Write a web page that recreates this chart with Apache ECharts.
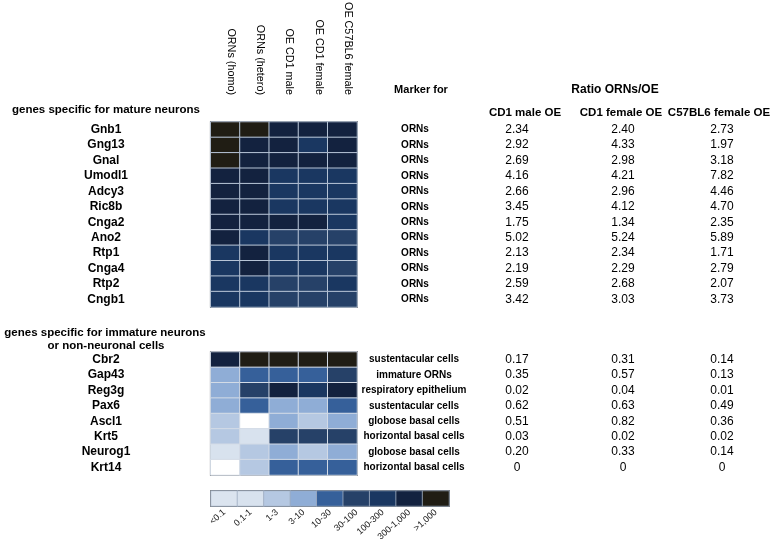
<!DOCTYPE html>
<html><head><meta charset="utf-8">
<script src="https://cdn.jsdelivr.net/npm/echarts@6/dist/echarts.min.js"></script>
<style>html,body{margin:0;padding:0;background:#fff}#c{width:777px;height:543px}</style>
</head><body><div id="c"></div>
<script>
const columns = ['ORNs (homo)','ORNs (hetero)','OE CD1 male','OE CD1 female','OE C57BL6 female'];

const matureGenes = ['Gnb1','Gng13','Gnal','Umodl1','Adcy3','Ric8b','Cnga2','Ano2','Rtp1','Cnga4','Rtp2','Cngb1'];
const matureLevels = [
  [8,8,7,7,7],
  [8,7,7,6,7],
  [8,7,7,7,7],
  [7,7,6,6,6],
  [7,7,6,6,6],
  [7,7,6,6,6],
  [7,7,7,7,6],
  [7,6,5,5,5],
  [6,7,6,6,6],
  [6,7,6,6,5],
  [6,6,5,5,6],
  [6,6,5,5,5]
];
const matureMarkers = ['ORNs','ORNs','ORNs','ORNs','ORNs','ORNs','ORNs','ORNs','ORNs','ORNs','ORNs','ORNs'];
const matureCD1Male   = [2.34,2.92,2.69,4.16,2.66,3.45,1.75,5.02,2.13,2.19,2.59,3.42];
const matureCD1Female = [2.40,4.33,2.98,4.21,2.96,4.12,1.34,5.24,2.34,2.29,2.68,3.03];
const matureC57Female = [2.73,1.97,3.18,7.82,4.46,4.70,2.35,5.89,1.71,2.79,2.07,3.73];

const immatureGenes = ['Cbr2','Gap43','Reg3g','Pax6','Ascl1','Krt5','Neurog1','Krt14'];
const immatureLevels = [
  [7,8,8,8,8],
  [3,4,4,4,5],
  [3,5,7,6,7],
  [3,4,3,3,4],
  [2,0,3,2,3],
  [2,1,5,5,5],
  [1,2,3,2,3],
  [0,2,4,4,4]
];
const immatureMarkers = ['sustentacular cells','immature ORNs','respiratory epithelium','sustentacular cells','globose basal cells','horizontal basal cells','globose basal cells','horizontal basal cells'];
const immatureCD1Male   = [0.17,0.35,0.02,0.62,0.51,0.03,0.20,0];
const immatureCD1Female = [0.31,0.57,0.04,0.63,0.82,0.02,0.33,0];
const immatureC57Female = [0.14,0.13,0.01,0.49,0.36,0.02,0.14,0];

const levelLabels = ['<0.1','0.1-1','1-3','3-10','10-30','30-100','100-300','300-1,000','>1,000'];
const levelIndex = [0,1,2,3,4,5,6,7,8];

const heatColors   = ['#ffffff','#d8e2ee','#b5c8e2','#8fadd6','#36609a','#264168','#1a3761','#13223f','#201d14'];
const legendColors = ['#dbe4ef','#d8e2ee','#b5c8e2','#8fadd6','#36609a','#264168','#1a3761','#13223f','#201d14'];

const FONT = "'Liberation Sans', Arial, sans-serif";
const fmt = v => v === 0 ? '0' : v.toFixed(2);

function cells(levels){
  const out = [];
  levels.forEach((row, r) => row.forEach((v, c) => out.push([c, r, v])));
  return out;
}

const gx = 210.7, gw = 146.3;
const topGrid = {left: gx, top: 122, width: gw, height: 185};
const botGrid = {left: gx, top: 352, width: gw, height: 123};
const legGrid = {left: 211, top: 491, width: 238, height: 15};
const gridStyle = {show: true, borderColor: '#111', borderWidth: 1.5, backgroundColor: 'transparent',
  containLabel: false, outerBoundsMode: 'none'};

const noLine = {axisLine:{show:false}, axisTick:{show:false}, splitLine:{show:false}};

function rightAxis(gridIndex, genes, texts, center, bold, size){
  return Object.assign({
    type: 'category', gridIndex, data: genes, inverse: true, position: 'right',
    axisLabel: {
      interval: 0, align: 'center', margin: center - (gx + gw),
      formatter: (v, i) => texts[i],
      color: '#000', fontFamily: FONT, fontWeight: bold ? 'bold' : 'normal', fontSize: size
    }
  }, noLine);
}

function geneAxis(gridIndex, genes){
  return Object.assign({
    type: 'category', gridIndex, data: genes, inverse: true, position: 'left',
    axisLabel: {interval: 0, align: 'center', margin: gx - 106, color: '#000',
      fontFamily: FONT, fontWeight: 'bold', fontSize: 12}
  }, noLine);
}

const yAxes = [
  geneAxis(0, matureGenes),
  rightAxis(0, matureGenes, matureMarkers, 415, true, 10),
  rightAxis(0, matureGenes, matureCD1Male.map(fmt), 517, false, 12),
  rightAxis(0, matureGenes, matureCD1Female.map(fmt), 623, false, 12),
  rightAxis(0, matureGenes, matureC57Female.map(fmt), 722, false, 12),
  geneAxis(1, immatureGenes),
  rightAxis(1, immatureGenes, immatureMarkers, 414, true, 10),
  rightAxis(1, immatureGenes, immatureCD1Male.map(fmt), 517, false, 12),
  rightAxis(1, immatureGenes, immatureCD1Female.map(fmt), 623, false, 12),
  rightAxis(1, immatureGenes, immatureC57Female.map(fmt), 722, false, 12),
  Object.assign({type: 'category', gridIndex: 2, data: ['scale'], show: false}, noLine)
];

const xAxes = [
  Object.assign({type: 'category', gridIndex: 0, data: columns, position: 'top',
    axisLabel: {interval: 0, rotate: 90, margin: 27, verticalAlign: 'bottom',
      color: '#000', fontFamily: FONT, fontSize: 10.8}}, noLine),
  Object.assign({type: 'category', gridIndex: 1, data: columns, axisLabel: {show: false}}, noLine),
  Object.assign({type: 'category', gridIndex: 2, data: levelLabels, position: 'bottom',
    axisLabel: {interval: 0, rotate: 42, margin: 5, color: '#222', fontFamily: FONT, fontSize: 9}}, noLine)
];

function textEl(text, x, y, align, size, weight){
  return {type: 'text', x, y, silent: true,
    style: {text, fill: '#000', align, verticalAlign: 'middle',
      font: `${weight} ${size}px ${FONT}`}};
}

const option = {
  animation: false,
  backgroundColor: '#fff',
  grid: [Object.assign({}, topGrid, gridStyle), Object.assign({}, botGrid, gridStyle), Object.assign({}, legGrid, gridStyle)],
  xAxis: xAxes,
  yAxis: yAxes,
  visualMap: [
    {type: 'piecewise', show: false, seriesIndex: [0, 1], dimension: 2,
      pieces: heatColors.map((c, i) => ({value: i, color: c}))},
    {type: 'piecewise', show: false, seriesIndex: [2], dimension: 2,
      pieces: legendColors.map((c, i) => ({value: i, color: c}))}
  ],
  series: [
    {type: 'heatmap', xAxisIndex: 0, yAxisIndex: 0, data: cells(matureLevels),
      itemStyle: {borderColor: '#b7c4d6', borderWidth: 1}, emphasis: {disabled: true}},
    {type: 'heatmap', xAxisIndex: 1, yAxisIndex: 5, data: cells(immatureLevels),
      itemStyle: {borderColor: '#d3dbe6', borderWidth: 1}, emphasis: {disabled: true}},
    {type: 'heatmap', xAxisIndex: 2, yAxisIndex: 10, data: levelIndex.map(i => [i, 0, i]),
      itemStyle: {borderColor: '#9fadc2', borderWidth: 0.8}, emphasis: {disabled: true}}
  ],
  graphic: [
    textEl('genes specific for mature neurons', 12, 110, 'left', 11.5, 'bold'),
    textEl('genes specific for immature neurons', 105, 333, 'center', 11.5, 'bold'),
    textEl('or non-neuronal cells', 106, 346, 'center', 11.5, 'bold'),
    textEl('Marker for', 421, 90, 'center', 11, 'bold'),
    textEl('Ratio ORNs/OE', 615, 90, 'center', 12, 'bold'),
    textEl('CD1 male OE', 525, 113, 'center', 11.5, 'bold'),
    textEl('CD1 female OE', 621, 113, 'center', 11.5, 'bold'),
    textEl('C57BL6 female OE', 719, 113, 'center', 11.5, 'bold')
  ]
};

const chart = echarts.init(document.getElementById('c'), null, {renderer: 'canvas'});
chart.setOption(option);
</script>
</body></html>
